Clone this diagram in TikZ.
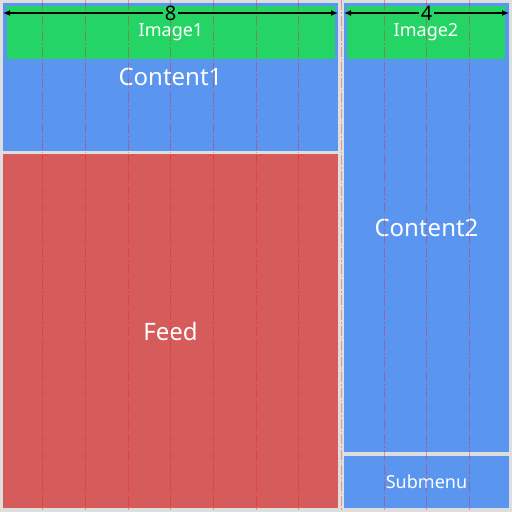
\documentclass[tikz,border=0pt]{standalone}
\usepackage{fontspec}
\setmainfont{Noto Sans}
\usetikzlibrary{arrows.meta}

\definecolor{bggray}{HTML}{DEDEDE}
\definecolor{cardblue}{HTML}{5A96F0}
\definecolor{imggreen}{HTML}{24D464}
\definecolor{feedred}{HTML}{D65B5B}
\definecolor{gridred}{HTML}{E81E1E}

\begin{document}
\begin{tikzpicture}[
  x=1pt, y=-1pt,
  every node/.style={text=white, inner sep=0pt, outer sep=0pt, anchor=north west},
  panel/.style={rectangle, fill=cardblue, font=\fontsize{24}{28}\selectfont},
  imgbox/.style={rectangle, fill=imggreen, font=\fontsize{18}{22}\selectfont},
  feedbox/.style={rectangle, fill=feedred, font=\fontsize{24}{28}\selectfont},
  subbox/.style={rectangle, fill=cardblue, font=\fontsize{18}{22}\selectfont},
  gridline/.style={gridred, opacity=0.38, line width=1pt,
                   dash pattern=on 10pt off 2pt on 1.5pt off 2pt},
  dimlab/.style={text=black, anchor=center, inner sep=2pt, font=\fontsize{20}{22}\selectfont},
  dim/.style={-{Latex[length=7pt, width=6pt]}, line width=1.3pt, black}
]
\useasboundingbox (0,0) rectangle (512,512);
\fill[bggray] (0,0) rectangle (512,512);

% left column
\node[panel, minimum width=335pt, minimum height=148pt] (content1) at (3,3) {Content1};
\node[imgbox, minimum width=328pt, minimum height=53pt] (image1) at (7,6) {Image1};
\node[feedbox, minimum width=335pt, minimum height=354pt] (feed) at (3,154) {Feed};

% right column
\node[panel, minimum width=165pt, minimum height=449pt] (content2) at (344,3) {Content2};
\node[imgbox, minimum width=158pt, minimum height=53pt] (image2) at (347,6) {Image2};
\node[subbox, minimum width=165pt, minimum height=52pt] (submenu) at (344,456) {Submenu};

% 12 column grid
\foreach \k in {1,...,11}
  \draw[gridline] ({\k*512/12},0) -- ({\k*512/12},512);

% column spans
\node[dimlab] (span8) at (content1.north |- 0,13) {8};
\node[dimlab] (span4) at (content2.north |- 0,13) {4};
\draw[dim] (span8) -- (content1.west |- span8);
\draw[dim] (span8) -- (content1.east |- span8);
\draw[dim] (span4) -- (content2.west |- span4);
\draw[dim] (span4) -- (content2.east |- span4);
\end{tikzpicture}
\end{document}
